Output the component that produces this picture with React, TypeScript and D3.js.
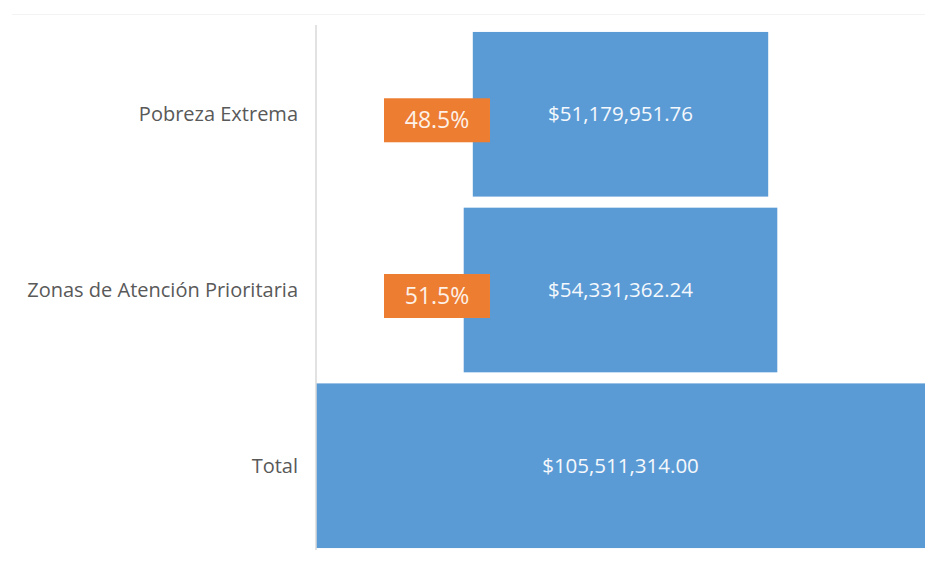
import React from "react";
import * as d3 from "d3";

const categories = ["Pobreza Extrema", "Zonas de Atención Prioritaria", "Total"];
const amounts = [51179951.76, 54331362.24, 105511314.0];
const amountLabels = ["$51,179,951.76", "$54,331,362.24", "$105,511,314.00"];
const percentLabels = ["48.5%", "51.5%", null];

const W = 927;
const H = 562;
const axisX = 316;
const plotRight = 925;

export default function App() {
  const maxV = d3.max(amounts) as number;
  const widthScale = d3.scaleLinear().domain([0, maxV]).range([0, plotRight - axisX]);
  const center = (axisX + plotRight) / 2;
  const y = d3
    .scaleBand<string>()
    .domain(categories)
    .range([26.5, 553.5])
    .paddingInner(0.063)
    .paddingOuter(0.031);
  const font = "'Open Sans', sans-serif";
  const pctCenterX = axisX + 121;

  return (
    <svg
      width={W}
      height={H}
      style={{ position: "absolute", left: 0, top: 0, background: "#fff" }}
      fontFamily={font}
    >
      <rect x={0} y={0} width={W} height={H} fill="#fff" />
      <line x1={12} x2={925} y1={14.5} y2={14.5} stroke="#f3f3f3" strokeWidth={1} />
      {categories.map((c, i) => {
        const w = widthScale(amounts[i]);
        const y0 = y(c) as number;
        const bw = y.bandwidth();
        const cy = y0 + bw / 2;
        return (
          <g key={c}>
            <rect x={center - w / 2} y={y0} width={w} height={bw} fill="#5B9BD5" />
            <text
              x={center}
              y={cy}
              dy="0.35em"
              textAnchor="middle"
              fontSize={20.5}
              fill="#F5F8FC"
            >
              {amountLabels[i]}
            </text>
            <text
              x={axisX - 18}
              y={cy}
              dy="0.35em"
              textAnchor="end"
              fontSize={20}
              fill="#595959"
            >
              {c}
            </text>
          </g>
        );
      })}
      {categories.map((c, i) => {
        const p = percentLabels[i];
        if (!p) return null;
        const y0 = y(c) as number;
        const cy = y0 + y.bandwidth() / 2 + 6;
        const bw = 106;
        const bh = 44;
        return (
          <g key={"p" + c}>
            <rect x={pctCenterX - bw / 2} y={cy - bh / 2} width={bw} height={bh} fill="#ED7D31" />
            <text
              x={pctCenterX}
              y={cy}
              dy="0.35em"
              textAnchor="middle"
              fontSize={23}
              fill="#FDF1E8"
            >
              {p}
            </text>
          </g>
        );
      })}
      <line x1={axisX} x2={axisX} y1={25} y2={550} stroke="#d9d9d9" strokeWidth={1.5} />
    </svg>
  );
}
